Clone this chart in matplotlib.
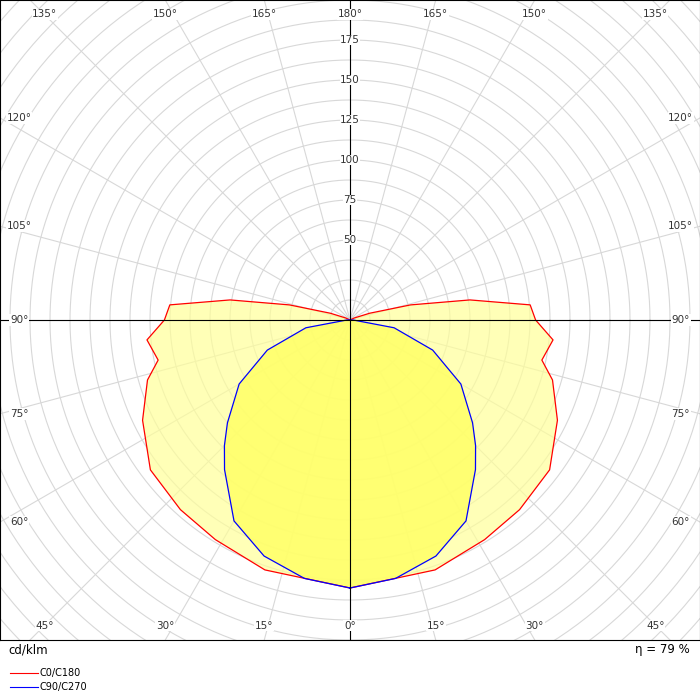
import numpy as np
import matplotlib.pyplot as plt

# gamma angles (deg from nadir) and intensities in cd/klm
ang_c0 = [0, 18.8, 31.5, 41.8, 53.1, 64.2, 73.5, 78.2, 84.4, 90, 94.8, 99.5, 104, 109, 115, 180]
val_c0 = [167.5, 165, 161, 159, 156, 144, 132, 122.5, 127.5, 116, 113, 76, 39, 13, 3, 0]
ang_c90 = [0, 10, 20, 30, 40, 45, 50, 60, 70, 80, 90]
val_c90 = [167.5, 164, 157, 145, 122, 111, 100, 80, 55, 28, 2]
ring_labels = [50, 75, 100, 125, 150, 175]
eta_text = "η = 79 %"

fig = plt.figure(figsize=(7, 7), dpi=100)
ax = fig.add_axes([0, 60 / 700, 1, 640 / 700])
R = 218.75
ax.set_xlim(-R, R)
ax.set_ylim(-200, 200)
ax.set_xticks([])
ax.set_yticks([])
for s in ax.spines.values():
    s.set_color('black')
    s.set_linewidth(0.8)


def closed_curve(angs, vals):
    a = np.radians(np.array(angs, dtype=float))
    v = np.array(vals, dtype=float)
    xr = v * np.sin(a)
    y = -v * np.cos(a)
    x = np.concatenate([xr, -xr[::-1]])
    y = np.concatenate([y, y[::-1]])
    return x, y


# grid circles
t = np.linspace(0, 2 * np.pi, 400)
for r in np.arange(12.5, 320, 12.5):
    ax.plot(r * np.cos(t), r * np.sin(t), color='#d8d8d8', lw=0.8, zorder=1)

# spokes and angle labels
for g in range(-165, 181, 15):
    a = np.radians(g)
    dx, dy = np.sin(a), -np.cos(a)
    ax.plot([0, 400 * dx], [0, 400 * dy], color='#d8d8d8', lw=0.8, zorder=1)
for g in range(-180, 181, 15):
    if g == -180:
        continue
    a = np.radians(g)
    dx, dy = np.sin(a), -np.cos(a)
    k = min(R / abs(dx) if abs(dx) > 1e-9 else 1e9, 200 / abs(dy) if abs(dy) > 1e-9 else 1e9)
    px, py = k * dx, k * dy
    px = np.clip(px, -R + 12, R - 12)
    py = np.clip(py, -200 + 9, 200 - 9)
    if abs(g) in (0, 15, 30, 45, 135, 150, 165, 180):
        px = np.clip(px, -R + 28, R - 28)
    elif abs(g) <= 120:
        px = np.sign(px) * (R - 12)
    ax.text(px, py, f"{abs(g)}°", ha='center', va='center', fontsize=7.5,
            color='#333333', zorder=5,
            bbox=dict(facecolor='white', edgecolor='none', pad=0.5))

x0, y0 = closed_curve(ang_c0, val_c0)
ax.fill(x0, y0, color='#ffff99', alpha=0.7, zorder=2, lw=0)
x9, y9 = closed_curve(ang_c90, val_c90)
ax.fill(x9, y9, color='#ffff66', alpha=0.85, zorder=3, lw=0)
ax.plot(x0, y0, color='red', lw=0.9, zorder=4)
ax.plot(x9, y9, color='blue', lw=0.9, zorder=4)

ax.axhline(0, color='black', lw=0.8, zorder=4)
ax.axvline(0, color='black', lw=0.8, zorder=4)

for v in ring_labels:
    ax.text(0, v, str(v), ha='center', va='center', fontsize=7.5, color='#333333', zorder=5,
            bbox=dict(facecolor='white', edgecolor='none', pad=0.3))

fig.text(8 / 700, 1 - 650 / 700, "cd/klm", ha='left', va='center', fontsize=8.5)
fig.text(690 / 700, 1 - 650 / 700, eta_text, ha='right', va='center', fontsize=8.5)
for yy, col, lab in [(673, 'red', 'C0/C180'), (687, 'blue', 'C90/C270')]:
    fy = 1 - yy / 700
    fig.add_artist(plt.Line2D([10 / 700, 38 / 700], [fy, fy], color=col, lw=0.8))
    fig.text(40 / 700, fy, lab, ha='left', va='center', fontsize=7)

fig.savefig('out.png', dpi=100)
